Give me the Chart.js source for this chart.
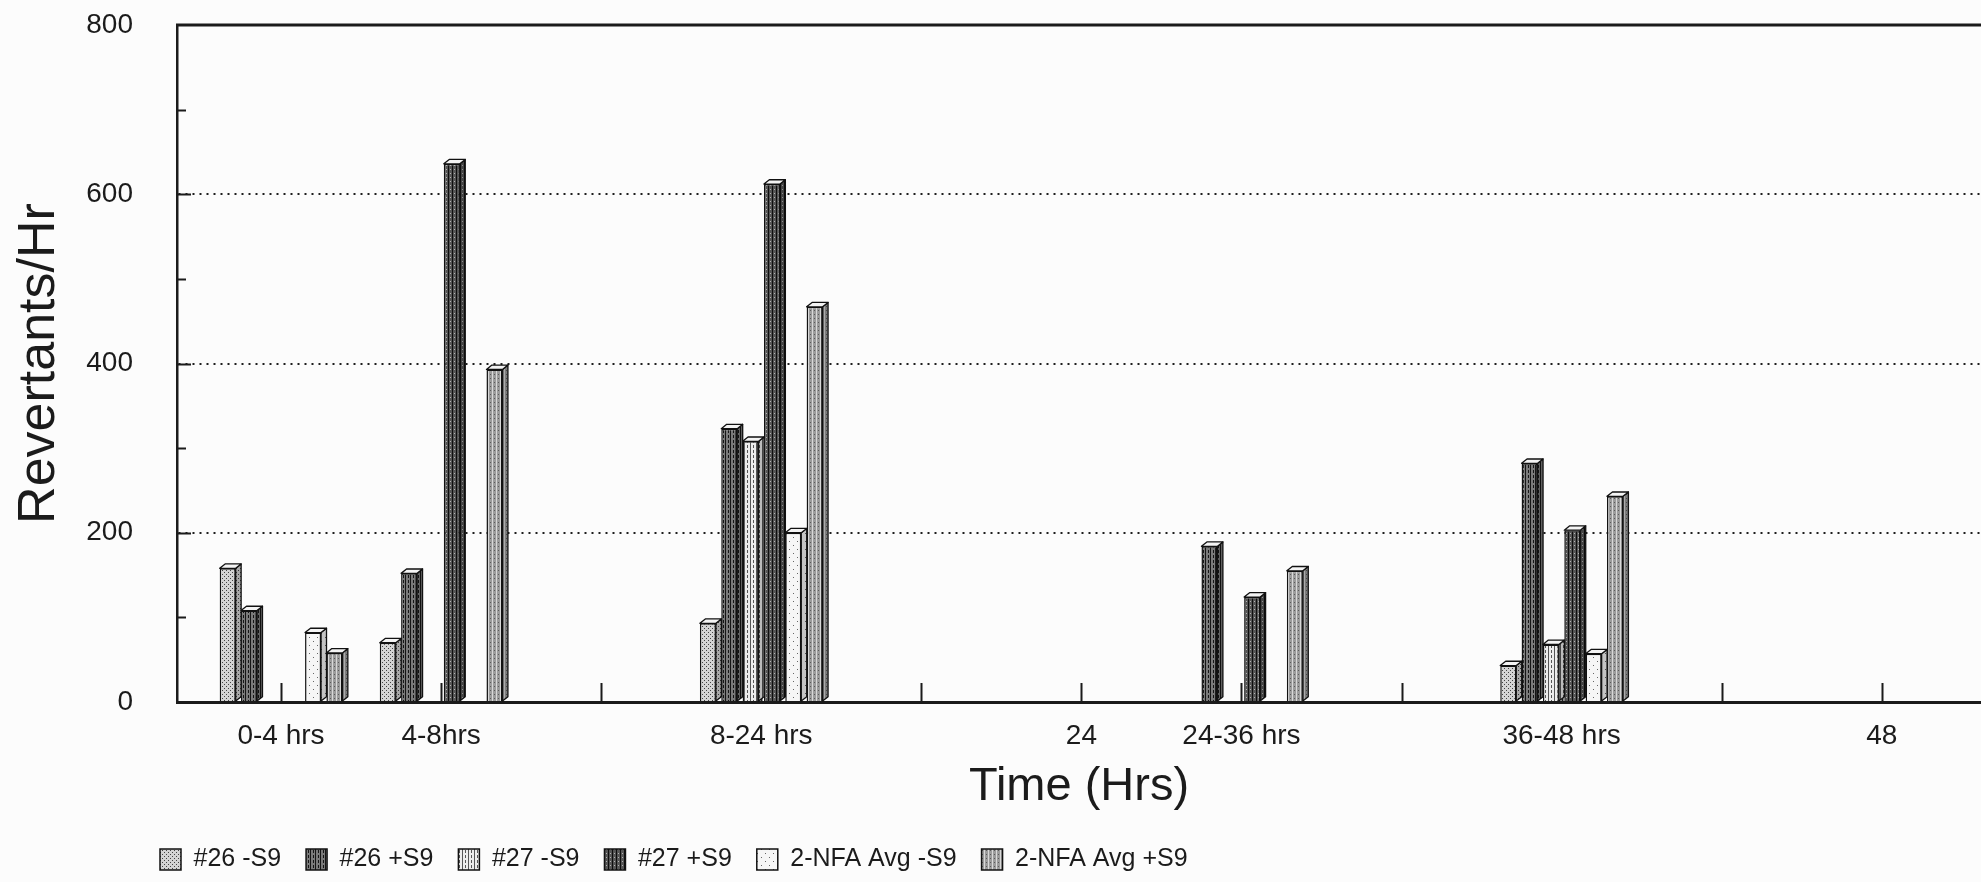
<!DOCTYPE html>
<html>
<head>
<meta charset="utf-8">
<title>Revertants per hour over time</title>
<script src="https://cdn.jsdelivr.net/npm/chart.js@4.4.1/dist/chart.umd.min.js"></script>
<style>
  html, body { margin: 0; padding: 0; background: #fcfcfc; }
  #wrap { width: 1981px; height: 882px; position: relative; }
</style>
</head>
<body>
<div id="wrap"><canvas id="chart"></canvas></div>
<script>
// Time slots along the x axis (empty strings are unlabelled slots)
const timeLabels = ['0-4 hrs', '4-8hrs', '', '8-24 hrs', '', '24', '24-36 hrs', '', '36-48 hrs', '', '48'];

// Revertants/Hr per time slot (null = no bar)
const s26Minus  = [158,  70, null,  93, null, null, null, null,  43, null, null];
const s26Plus   = [108, 152, null, 323, null, null, 184, null, 282, null, null];
const s27Minus  = [null, null, null, 308, null, null, null, null,  68, null, null];
const s27Plus   = [null, 636, null, 612, null, null, 124, null, 203, null, null];
const nfaMinus  = [ 82, null, null, 200, null, null, null, null,  57, null, null];
const nfaPlus   = [ 58, 393, null, 467, null, null, 155, null, 243, null, null];

const seriesNames = ['#26 -S9', '#26 +S9', '#27 -S9', '#27 +S9', '2-NFA Avg -S9', '2-NFA Avg +S9'];
const seriesValues = [s26Minus, s26Plus, s27Minus, s27Plus, nfaMinus, nfaPlus];

// Y axis tick labels
const yMajorTicks = [0, 200, 400, 600, 800];
const yGridLines = [200, 400, 600];

const FONT = "'Liberation Sans', Arial, Helvetica, sans-serif";
const INK = '#1b1b1b';

const canvas = document.getElementById('chart');
const mainCtx = canvas.getContext('2d');

// Small tiled fills in the style of a monochrome plotter
function makePattern(w, h, bg, draw) {
  const c = document.createElement('canvas');
  c.width = w; c.height = h;
  const g = c.getContext('2d');
  g.fillStyle = bg;
  g.fillRect(0, 0, w, h);
  draw(g);
  return mainCtx.createPattern(c, 'repeat');
}

const fills = [
  // #26 -S9 : light dotted mesh
  makePattern(4, 4, '#d4d4d4', g => { g.fillStyle = '#444'; g.fillRect(0, 0, 1, 1); g.fillRect(2, 2, 1, 1); }),
  // #26 +S9 : dark streaks
  makePattern(5, 5, '#7a7a7a', g => { g.fillStyle = '#151515'; g.fillRect(0, 0, 1, 5); g.fillRect(3, 0, 1, 3); }),
  // #27 -S9 : light vertical dashes
  makePattern(6, 5, '#ececec', g => { g.fillStyle = '#555'; g.fillRect(0, 0, 1, 5); g.fillRect(3, 0, 1, 3); }),
  // #27 +S9 : darkest stripes
  makePattern(4, 4, '#555555', g => { g.fillStyle = '#0e0e0e'; g.fillRect(0, 0, 1, 4); g.fillStyle = '#b5b5b5'; g.fillRect(2, 1, 1, 1); }),
  // 2-NFA Avg -S9 : sparse dots on white
  makePattern(8, 8, '#f6f6f6', g => { g.fillStyle = '#666'; g.fillRect(1, 1, 1, 1); g.fillRect(5, 5, 1, 1); }),
  // 2-NFA Avg +S9 : medium grey
  makePattern(4, 4, '#9c9c9c', g => { g.fillStyle = '#d8d8d8'; g.fillRect(0, 0, 1, 4); g.fillStyle = '#5a5a5a'; g.fillRect(2, 2, 1, 1); })
];

const datasets = seriesNames.map((name, k) => ({
  label: name,
  data: timeLabels.map((_, i) => ({ x: i, y: seriesValues[k][i] })),
  backgroundColor: fills[k],
  borderColor: '#111',
  borderWidth: 1.5,
  borderSkipped: 'start'
}));

// Page background
const backdrop = {
  id: 'backdrop',
  beforeDraw(chart) {
    const { ctx, width, height } = chart;
    ctx.save();
    ctx.fillStyle = '#fcfcfc';
    ctx.fillRect(0, 0, width, height);
    ctx.restore();
  }
};

// Top frame line and short tick marks pointing into the plot area
const innerTicks = {
  id: 'innerTicks',
  beforeDatasetsDraw(chart) {
    const { ctx, chartArea, scales } = chart;
    const xs = scales.x, ys = scales.y;
    ctx.save();
    ctx.strokeStyle = INK;
    ctx.lineWidth = 2;
    ctx.beginPath();
    ys.ticks.forEach(t => {
      if (t.value <= 0 || t.value >= 800) return;
      const py = Math.round(ys.getPixelForValue(t.value)) + 0.5;
      const len = yMajorTicks.includes(t.value) ? 14 : 9;
      ctx.moveTo(chartArea.left, py);
      ctx.lineTo(chartArea.left + len, py);
    });
    xs.ticks.forEach(t => {
      const px = Math.round(xs.getPixelForValue(t.value)) + 0.5;
      ctx.moveTo(px, chartArea.bottom);
      ctx.lineTo(px, chartArea.bottom - 19);
    });
    ctx.stroke();
    // frame along the top of the plot
    const topY = ys.getPixelForValue(ys.max);
    ctx.lineWidth = 3;
    ctx.beginPath();
    ctx.moveTo(chartArea.left - 1, topY);
    ctx.lineTo(chartArea.right, topY);
    ctx.stroke();
    ctx.restore();
  }
};

// Oblique side and top faces that give each bar its depth
const barDepth = {
  id: 'barDepth',
  afterDatasetsDraw(chart) {
    const ctx = chart.ctx;
    chart.data.datasets.forEach((ds, di) => {
      const meta = chart.getDatasetMeta(di);
      if (meta.hidden) return;
      meta.data.forEach((bar, i) => {
        if (ds.data[i].y == null) return;
        const { x, y, base, width } = bar.getProps(['x', 'y', 'base', 'width'], true);
        const l = x - width / 2, r = x + width / 2;
        const d = width * 0.34, dy = d * 0.8;
        ctx.save();
        ctx.lineJoin = 'round';
        ctx.strokeStyle = '#111';
        ctx.lineWidth = 1.3;
        // side face
        ctx.beginPath();
        ctx.moveTo(r, base);
        ctx.lineTo(r, y);
        ctx.lineTo(r + d, y - dy);
        ctx.lineTo(r + d, base - dy);
        ctx.closePath();
        ctx.fillStyle = ds.backgroundColor;
        ctx.fill();
        ctx.fillStyle = 'rgba(0,0,0,0.2)';
        ctx.fill();
        ctx.stroke();
        // top face
        ctx.beginPath();
        ctx.moveTo(l, y);
        ctx.lineTo(l + d, y - dy);
        ctx.lineTo(r + d, y - dy);
        ctx.lineTo(r, y);
        ctx.closePath();
        ctx.fillStyle = '#f4f4f4';
        ctx.fill();
        ctx.stroke();
        ctx.restore();
      });
    });
  }
};

// Legend row sits a little left of the plot's left edge
const legendShift = {
  id: 'legendShift',
  afterLayout(chart) {
    const lg = chart.legend;
    if (!lg) return;
    lg.left -= 42;
    lg.right -= 42;
  }
};

new Chart(canvas, {
  type: 'bar',
  data: { datasets },
  plugins: [backdrop, innerTicks, barDepth, legendShift],
  options: {
    responsive: true,
    maintainAspectRatio: false,
    animation: false,
    devicePixelRatio: 1,
    layout: { padding: { top: 25, right: 0, bottom: 0, left: 0 } },
    datasets: {
      bar: { categoryPercentage: 0.8, barPercentage: 0.75, grouped: true }
    },
    scales: {
      x: {
        type: 'linear',
        min: -0.65,
        max: 10.62,
        offset: false,
        afterBuildTicks(axis) {
          axis.ticks = timeLabels.map((_, i) => ({ value: i }));
        },
        afterFit(axis) { axis.height = 120; },
        ticks: {
          autoSkip: false,
          maxRotation: 0,
          padding: 17,
          color: INK,
          font: { family: FONT, size: 28 },
          callback: v => timeLabels[v] ?? ''
        },
        grid: { display: false, drawTicks: false },
        border: { display: true, color: INK, width: 3 },
        title: {
          display: true,
          text: 'Time (Hrs)',
          color: INK,
          font: { family: FONT, size: 47 },
          padding: { top: 0, bottom: 7 }
        }
      },
      y: {
        type: 'linear',
        min: 0,
        max: 800,
        afterFit(axis) { axis.width = 177; },
        ticks: {
          stepSize: 100,
          padding: 8,
          color: INK,
          font: { family: FONT, size: 28 },
          callback: v => (yMajorTicks.includes(v) ? String(v) : '')
        },
        grid: {
          drawTicks: true,
          tickLength: 36,
          tickColor: 'rgba(0,0,0,0)',
          lineWidth: 2,
          color: c => (c.tick && yGridLines.includes(c.tick.value) ? '#1e1e1e' : 'rgba(0,0,0,0)')
        },
        border: { display: true, color: INK, width: 2.5, dash: [2, 5] },
        title: {
          display: true,
          text: 'Revertants/Hr',
          color: INK,
          font: { family: FONT, size: 52 },
          padding: { top: 8, bottom: 0 }
        }
      }
    },
    plugins: {
      tooltip: { enabled: false },
      legend: {
        position: 'bottom',
        align: 'start',
        fullSize: false,
        labels: {
          color: INK,
          font: { family: FONT, size: 25 },
          boxWidth: 21,
          boxHeight: 21,
          padding: 25
        }
      }
    }
  }
});
</script>
</body>
</html>
